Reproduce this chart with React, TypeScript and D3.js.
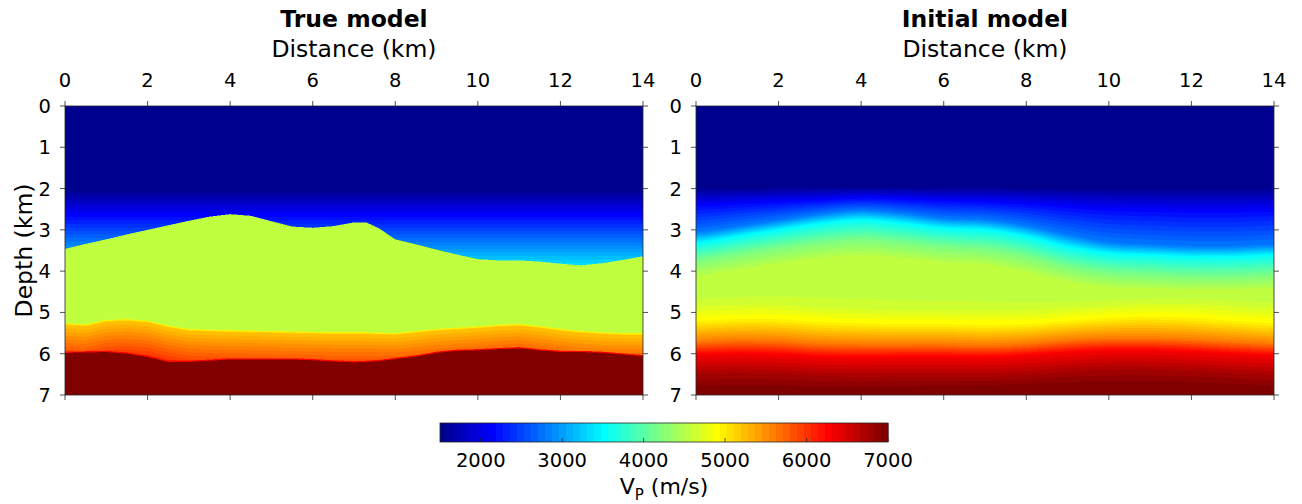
import React, { useMemo } from "react";
import * as d3 from "d3";

const W = 1302;
const H = 504;

// ---------- axes / ticks ----------
const xTicks = [0, 2, 4, 6, 8, 10, 12, 14];
const zTicks = [0, 1, 2, 3, 4, 5, 6, 7];
const cbTicks = [2000, 3000, 4000, 5000, 6000, 7000];
const vMin = 1500;
const vMax = 7000;

// ---------- true model (interfaces, km) ----------
const trueNodeX = [0, 0.5, 1, 1.5, 2, 2.5, 3, 3.5, 4, 4.5, 5, 5.5, 6, 6.5, 7, 7.3, 7.6, 8, 8.5, 9, 9.5, 10, 10.5, 11, 11.5, 12, 12.5, 13, 13.5, 14];
const saltTop = [3.46, 3.34, 3.23, 3.11, 3.0, 2.89, 2.78, 2.68, 2.62, 2.66, 2.79, 2.92, 2.95, 2.91, 2.82, 2.82, 2.96, 3.23, 3.35, 3.48, 3.6, 3.71, 3.74, 3.74, 3.77, 3.82, 3.86, 3.81, 3.73, 3.64];
const saltBase = [5.26, 5.29, 5.18, 5.16, 5.2, 5.32, 5.4, 5.42, 5.43, 5.44, 5.45, 5.46, 5.47, 5.48, 5.48, 5.48, 5.49, 5.5, 5.45, 5.4, 5.37, 5.34, 5.3, 5.28, 5.33, 5.4, 5.45, 5.48, 5.5, 5.5];
const deepTop = [5.98, 5.97, 5.96, 6.0, 6.08, 6.2, 6.2, 6.17, 6.14, 6.14, 6.14, 6.14, 6.16, 6.19, 6.21, 6.2, 6.18, 6.13, 6.07, 5.98, 5.93, 5.92, 5.89, 5.87, 5.92, 5.96, 5.96, 5.98, 6.02, 6.06];
const waterDepth = 2.0;
const waterVel = 1500;
const sedGradient = 1000; // m/s per km below water bottom
const saltVel = 4550;
const subsaltEdgeVel = 4950; // thin yellow rim at salt base
const subsaltTopVel = 5150;
const subsaltGradient = 1000;
const basementEdgeVel = 6300; // thin red rim above basement
const basementVel = 7000;

// ---------- initial model (iso-velocity depths, km) ----------
const initNodeX = [0, 1, 2, 3, 4, 5, 6, 7, 8, 9, 10, 11, 12, 13, 14];
const initIso1500 = [1.95, 1.95, 1.95, 1.95, 1.95, 1.95, 1.95, 1.95, 1.95, 1.95, 1.95, 1.95, 1.95, 1.95, 1.95];
const initIso2200 = [2.45, 2.4, 2.35, 2.3, 2.25, 2.28, 2.32, 2.35, 2.4, 2.48, 2.55, 2.58, 2.6, 2.6, 2.58];
const initIso2800 = [3.05, 2.92, 2.77, 2.62, 2.53, 2.6, 2.72, 2.76, 2.9, 3.12, 3.3, 3.36, 3.4, 3.4, 3.36];
const initIso3550 = [3.33, 3.17, 3.01, 2.86, 2.77, 2.85, 2.97, 3.01, 3.17, 3.42, 3.58, 3.62, 3.66, 3.66, 3.62];
const initIso4200 = [3.75, 3.6, 3.45, 3.32, 3.25, 3.32, 3.42, 3.48, 3.65, 3.9, 4.05, 4.1, 4.14, 4.14, 4.1];
const initIso4550 = [4.15, 4.0, 3.85, 3.72, 3.66, 3.72, 3.82, 3.88, 4.05, 4.28, 4.42, 4.45, 4.47, 4.47, 4.45];
const initIso4600 = [4.75, 4.72, 4.72, 4.78, 4.82, 4.85, 4.85, 4.85, 4.85, 4.8, 4.75, 4.7, 4.7, 4.75, 4.8];
const initIso4950 = [5.22, 5.18, 5.18, 5.25, 5.28, 5.3, 5.3, 5.32, 5.3, 5.22, 5.15, 5.12, 5.15, 5.22, 5.28];
const initIso5600 = [5.7, 5.66, 5.68, 5.74, 5.76, 5.76, 5.76, 5.78, 5.74, 5.66, 5.62, 5.62, 5.65, 5.7, 5.75];
const initIso6300 = [6.02, 6.0, 6.02, 6.07, 6.08, 6.07, 6.07, 6.08, 6.04, 5.97, 5.92, 5.92, 5.95, 6.0, 6.04];
const initIso6750 = [6.5, 6.48, 6.5, 6.55, 6.57, 6.56, 6.56, 6.57, 6.52, 6.45, 6.4, 6.4, 6.43, 6.48, 6.52];
const initIso7000 = [6.92, 6.9, 6.9, 6.92, 6.92, 6.9, 6.88, 6.86, 6.84, 6.82, 6.8, 6.8, 6.82, 6.86, 6.9];
const initLevels: [number, number[]][] = [
  [1500, initIso1500], [2200, initIso2200], [2800, initIso2800], [3550, initIso3550],
  [4200, initIso4200], [4550, initIso4550], [4600, initIso4600], [4950, initIso4950],
  [5600, initIso5600], [6300, initIso6300], [6750, initIso6750], [7000, initIso7000],
];

// ---------- layout ----------
const panelW = 578;
const panelH = 289;
const panelTop = 106;
const panels = [
  { left: 65, title: "True model", kind: "true" },
  { left: 696, title: "Initial model", kind: "init" },
];
const cb = { x0: 440, x1: 888, y0: 423, y1: 442 };

const FONT = "DejaVu Sans";
const AX = "#262626";
const TICK_FS = 19.5;
const LABEL_FS = 23.5;

// MATLAB jet(64)
const jet64: number[][] = (() => {
  const n = 64, m = 16;
  const u: number[] = [];
  for (let k = 1; k <= m; k++) u.push(k / m);
  for (let k = 1; k < m; k++) u.push(1);
  for (let k = m; k >= 1; k--) u.push(k / m);
  const cols = Array.from({ length: n }, () => [0, 0, 0]);
  const g0 = Math.ceil(m / 2) - (n % 4 === 1 ? 1 : 0);
  u.forEach((val, i) => {
    const g = g0 + i + 1;
    const r = g + m, b = g - m;
    if (g >= 1 && g <= n) cols[g - 1][1] = val;
    if (r >= 1 && r <= n) cols[r - 1][0] = val;
    if (b >= 1 && b <= n) cols[b - 1][2] = val;
  });
  return cols.map((c) => c.map((v) => Math.round(v * 255)));
})();

function colorIndex(v: number) {
  const i = Math.floor(((v - vMin) / (vMax - vMin)) * 64);
  return Math.max(0, Math.min(63, i));
}

const lin = (xs: number[], ys: number[]) => d3.scaleLinear().domain(xs).range(ys).clamp(true);
const saltTopAt = lin(trueNodeX, saltTop);
const saltBaseAt = lin(trueNodeX, saltBase);
const deepTopAt = lin(trueNodeX, deepTop);

function trueVel(x: number, z: number) {
  if (z < waterDepth) return waterVel;
  if (z < saltTopAt(x)) return waterVel + sedGradient * (z - waterDepth);
  const b = saltBaseAt(x);
  if (z < b) return saltVel;
  const d = deepTopAt(x);
  if (z < d) {
    if (z - b < 0.03) return subsaltEdgeVel;
    if (d - z < 0.03) return basementEdgeVel;
    return subsaltTopVel + subsaltGradient * (z - b);
  }
  return basementVel;
}

function smoothAt(xs: number[], ys: number[], x: number) {
  const n = xs.length;
  const step = xs[1] - xs[0];
  let t = (x - xs[0]) / step;
  t = Math.max(0, Math.min(n - 1 - 1e-9, t));
  const i = Math.floor(t);
  const f = t - i;
  const p0 = ys[Math.max(0, i - 1)], p1 = ys[i], p2 = ys[Math.min(n - 1, i + 1)], p3 = ys[Math.min(n - 1, i + 2)];
  return 0.5 * (2 * p1 + (-p0 + p2) * f + (2 * p0 - 5 * p1 + 4 * p2 - p3) * f * f + (-p0 + 3 * p1 - 3 * p2 + p3) * f * f * f);
}

function initVelColumn(x: number) {
  return initLevels.map(([v, arr]) => [v, smoothAt(initNodeX, arr, x)] as [number, number]);
}
function initVel(col: [number, number][], z: number) {
  if (z <= col[0][1]) return col[0][0];
  for (let k = 0; k < col.length - 1; k++) {
    const [v0, d0] = col[k];
    const [v1, d1] = col[k + 1];
    if (z < d1) return v0 + ((v1 - v0) * (z - d0)) / Math.max(1e-6, d1 - d0);
  }
  return col[col.length - 1][0];
}

function makeImage(kind: string, xs: d3.ScaleLinear<number, number>, zs: d3.ScaleLinear<number, number>) {
  const canvas = document.createElement("canvas");
  canvas.width = panelW;
  canvas.height = panelH;
  const ctx = canvas.getContext("2d")!;
  const img = ctx.createImageData(panelW, panelH);
  const ss = 2;
  for (let i = 0; i < panelW; i++) {
    const xsub: number[] = [];
    for (let a = 0; a < ss; a++) xsub.push(xs.invert(i + (a + 0.5) / ss));
    const cols = kind === "init" ? xsub.map((x) => initVelColumn(x)) : null;
    for (let j = 0; j < panelH; j++) {
      let r = 0, g = 0, b = 0;
      for (let a = 0; a < ss; a++) {
        for (let c = 0; c < ss; c++) {
          const z = zs.invert(j + (c + 0.5) / ss);
          const v = kind === "init" ? initVel(cols![a], z) : trueVel(xsub[a], z);
          const col = jet64[colorIndex(v)];
          r += col[0]; g += col[1]; b += col[2];
        }
      }
      const n = ss * ss;
      const o = (j * panelW + i) * 4;
      img.data[o] = r / n;
      img.data[o + 1] = g / n;
      img.data[o + 2] = b / n;
      img.data[o + 3] = 255;
    }
  }
  ctx.putImageData(img, 0, 0);
  return canvas.toDataURL();
}

function Panel({ left, title, kind }: { left: number; title: string; kind: string }) {
  const xs = d3.scaleLinear().domain([0, 14]).range([0, panelW]);
  const zs = d3.scaleLinear().domain([0, 7]).range([0, panelH]);
  const href = useMemo(() => makeImage(kind, xs, zs), [kind]);
  const tl = 5;
  return (
    <g transform={`translate(${left},${panelTop})`}>
      <image href={href} x={0} y={0} width={panelW} height={panelH} preserveAspectRatio="none" />
      <rect x={0} y={0} width={panelW} height={panelH} fill="none" stroke={AX} strokeWidth={0.8} />
      {xTicks.map((t) => (
        <g key={"x" + t}>
          <line x1={xs(t)} x2={xs(t)} y1={0} y2={-tl} stroke={AX} strokeWidth={0.8} />
          <line x1={xs(t)} x2={xs(t)} y1={panelH} y2={panelH + tl} stroke={AX} strokeWidth={0.8} />
          <text x={xs(t)} y={-19} textAnchor="middle" fontFamily={FONT} fontSize={TICK_FS} fill="#000">{t}</text>
        </g>
      ))}
      {zTicks.map((t) => (
        <g key={"z" + t}>
          <line x1={0} x2={-tl} y1={zs(t)} y2={zs(t)} stroke={AX} strokeWidth={0.8} />
          <line x1={panelW} x2={panelW + tl} y1={zs(t)} y2={zs(t)} stroke={AX} strokeWidth={0.8} />
          <text x={-14} y={zs(t)} dy="0.36em" textAnchor="end" fontFamily={FONT} fontSize={TICK_FS} fill="#000">{t}</text>
        </g>
      ))}
      <text x={panelW / 2} y={-49} textAnchor="middle" fontFamily={FONT} fontSize={LABEL_FS} fill="#000">Distance (km)</text>
      <text x={panelW / 2} y={-79} textAnchor="middle" fontFamily={FONT} fontSize={LABEL_FS} fontWeight="bold" fill="#000">{title}</text>
      {kind === "true" && (
        <text transform={`translate(-33,${panelH / 2}) rotate(-90)`} textAnchor="middle" fontFamily={FONT} fontSize={LABEL_FS} fill="#000">Depth (km)</text>
      )}
    </g>
  );
}

function Colorbar() {
  const s = d3.scaleLinear().domain([vMin, vMax]).range([cb.x0, cb.x1]);
  const bands = d3.range(64);
  const dv = (vMax - vMin) / 64;
  return (
    <g>
      {bands.map((k) => {
        const c = jet64[k];
        const x0 = s(vMin + k * dv);
        const x1 = s(vMin + (k + 1) * dv);
        return <rect key={k} x={x0} y={cb.y0} width={x1 - x0 + 0.5} height={cb.y1 - cb.y0} fill={`rgb(${c[0]},${c[1]},${c[2]})`} />;
      })}
      <rect x={cb.x0} y={cb.y0} width={cb.x1 - cb.x0} height={cb.y1 - cb.y0} fill="none" stroke={AX} strokeWidth={0.8} />
      {cbTicks.map((t) => (
        <g key={t}>
          <line x1={s(t)} x2={s(t)} y1={cb.y1} y2={cb.y1 - 4} stroke={AX} strokeWidth={0.8} />
          <text x={s(t)} y={467} textAnchor="middle" fontFamily={FONT} fontSize={TICK_FS} fill="#000">{t}</text>
        </g>
      ))}
      <text x={(cb.x0 + cb.x1) / 2} y={494} textAnchor="middle" fontFamily={FONT} fontSize={22} fill="#000">
        V<tspan fontSize={15} dy={6}>P</tspan><tspan dy={-6}> (m/s)</tspan>
      </text>
    </g>
  );
}

export default function App() {
  return (
    <svg width={W} height={H} style={{ position: "absolute", left: 0, top: 0, background: "#fff" }}>
      <rect x={0} y={0} width={W} height={H} fill="#fff" />
      {panels.map((p) => (
        <Panel key={p.kind} left={p.left} title={p.title} kind={p.kind} />
      ))}
      <Colorbar />
    </svg>
  );
}
